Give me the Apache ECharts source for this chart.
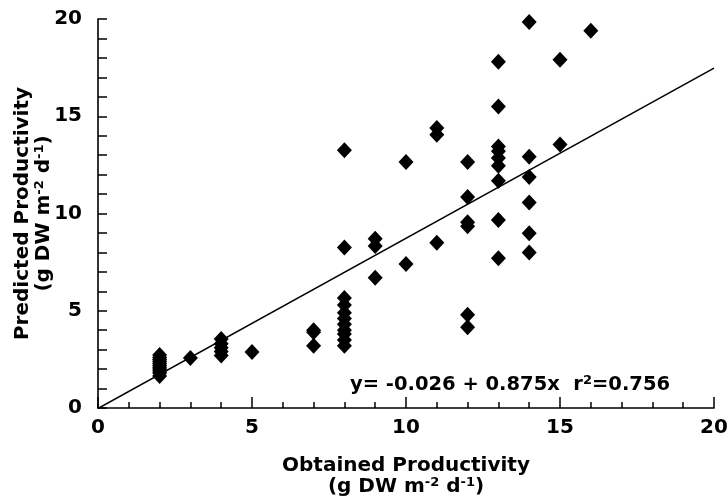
<!DOCTYPE html>
<html>
<head>
<meta charset="utf-8">
<script src="https://cdn.jsdelivr.net/npm/echarts@6/dist/echarts.min.js"></script>
<style>
  html, body { margin: 0; padding: 0; background: #fff; }
  #chart { width: 727px; height: 499px; }
</style>
</head>
<body>
<div id="chart"></div>
<script>
// Obtained vs predicted productivity (g DW m-2 d-1)
const obtained = [
  2, 2, 2, 2, 2, 2, 2, 2, 2, 2, 2,
  3,
  4, 4, 4, 4, 4,
  5,
  7, 7, 7,
  8, 8, 8, 8, 8, 8, 8, 8, 8, 8, 8,
  9, 9, 9,
  10, 10,
  11, 11, 11,
  12, 12, 12, 12, 12, 12,
  13, 13, 13, 13, 13, 13, 13, 13, 13,
  14, 14, 14, 14, 14, 14,
  15, 15,
  16
];
const predicted = [
  1.65, 1.8, 1.9, 2.0, 2.1, 2.2, 2.3, 2.4, 2.5, 2.6, 2.72,
  2.57,
  2.7, 2.9, 3.1, 3.3, 3.55,
  2.88,
  3.2, 3.9, 4.0,
  3.2, 3.5, 3.8, 4.0, 4.3, 4.6, 4.9, 5.3, 5.65, 8.25, 13.25,
  6.7, 8.33, 8.7,
  7.4, 12.65,
  8.5, 14.05, 14.4,
  4.15, 4.8, 9.35, 9.55, 10.85, 12.65,
  7.7, 9.67, 11.68, 12.45, 12.85, 13.2, 13.45, 15.5, 17.8,
  7.99, 8.98, 10.56, 11.88, 12.92, 19.85,
  13.55, 17.9,
  19.4
];

// Fitted regression: y = a + b x
const fitIntercept = -0.026;
const fitSlope = 0.875;
const fitR2 = 0.756;
const fitRange = [0, 20];

const xTickLabels = ['0', '5', '10', '15', '20'];
const yTickLabels = ['0', '5', '10', '15', '20'];

const points = obtained.map((x, i) => [x, predicted[i]]);
const fitLine = fitRange.map(x => [x, fitIntercept + fitSlope * x]);

const FONT = '"DejaVu Sans", Verdana, sans-serif';

const chart = echarts.init(document.getElementById('chart'), null, { renderer: 'canvas' });

const axisCommon = {
  min: 0,
  max: 20,
  interval: 5,
  axisLine: { show: true, lineStyle: { color: '#000', width: 1.6 } },
  splitLine: { show: false },
  nameLocation: 'middle',
  nameMoveOverlap: false,
  nameTextStyle: {
    fontFamily: FONT,
    fontWeight: 'bold',
    fontSize: 20,
    color: '#000',
    lineHeight: 21,
    rich: {
      sup: { fontFamily: FONT, fontWeight: 'bold', fontSize: 13, color: '#000', verticalAlign: 'top', padding: [0, 0, 8, 0] }
    }
  },
  axisLabel: {
    fontFamily: FONT,
    fontWeight: 'bold',
    fontSize: 20,
    color: '#000'
  }
};

chart.setOption({
  backgroundColor: '#fff',
  animation: false,
  grid: { left: 98, right: 13, top: 19, bottom: 91, containLabel: false, outerBoundsMode: 'none' },
  xAxis: Object.assign({}, axisCommon, {
    type: 'value',
    name: 'Obtained Productivity\n(g DW m{sup|-2} d{sup|-1})',
    nameGap: 47,
    axisTick: { show: true, inside: true, length: 11, lineStyle: { color: '#000', width: 1.5 } },
    minorTick: { show: true, splitNumber: 5, length: 6, lineStyle: { color: '#000', width: 1.5 } },
    axisLabel: Object.assign({}, axisCommon.axisLabel, {
      margin: 10,
      formatter: v => xTickLabels[v / 5]
    })
  }),
  yAxis: Object.assign({}, axisCommon, {
    type: 'value',
    name: 'Predicted Productivity\n(g DW m{sup|-2} d{sup|-1})',
    nameGap: 44,
    axisTick: { show: true, inside: true, length: 9, lineStyle: { color: '#000', width: 1.5 } },
    minorTick: { show: true, splitNumber: 5, length: 9, lineStyle: { color: '#000', width: 1.5 } },
    axisLabel: Object.assign({}, axisCommon.axisLabel, {
      margin: 16,
      formatter: v => yTickLabels[v / 5]
    })
  }),
  series: [
    {
      type: 'line',
      data: fitLine,
      symbol: 'none',
      lineStyle: { color: '#000', width: 1.5 },
      silent: true,
      z: 1
    },
    {
      type: 'scatter',
      data: points,
      symbol: 'diamond',
      symbolSize: [15, 16],
      itemStyle: { color: '#000', opacity: 1 },
      z: 2
    }
  ],
  graphic: [
    {
      type: 'text',
      left: 350,
      top: 374,
      style: {
        text: 'y= ' + fitIntercept.toFixed(3) + ' + ' + fitSlope.toFixed(3) + 'x  r{sup|2}=' + fitR2.toFixed(3),
        font: 'bold 19.5px ' + FONT,
        fill: '#000',
        rich: {
          sup: { font: 'bold 13px ' + FONT, fill: '#000', verticalAlign: 'top', padding: [0, 0, 8, 0] }
        }
      }
    }
  ]
});
</script>
</body>
</html>
